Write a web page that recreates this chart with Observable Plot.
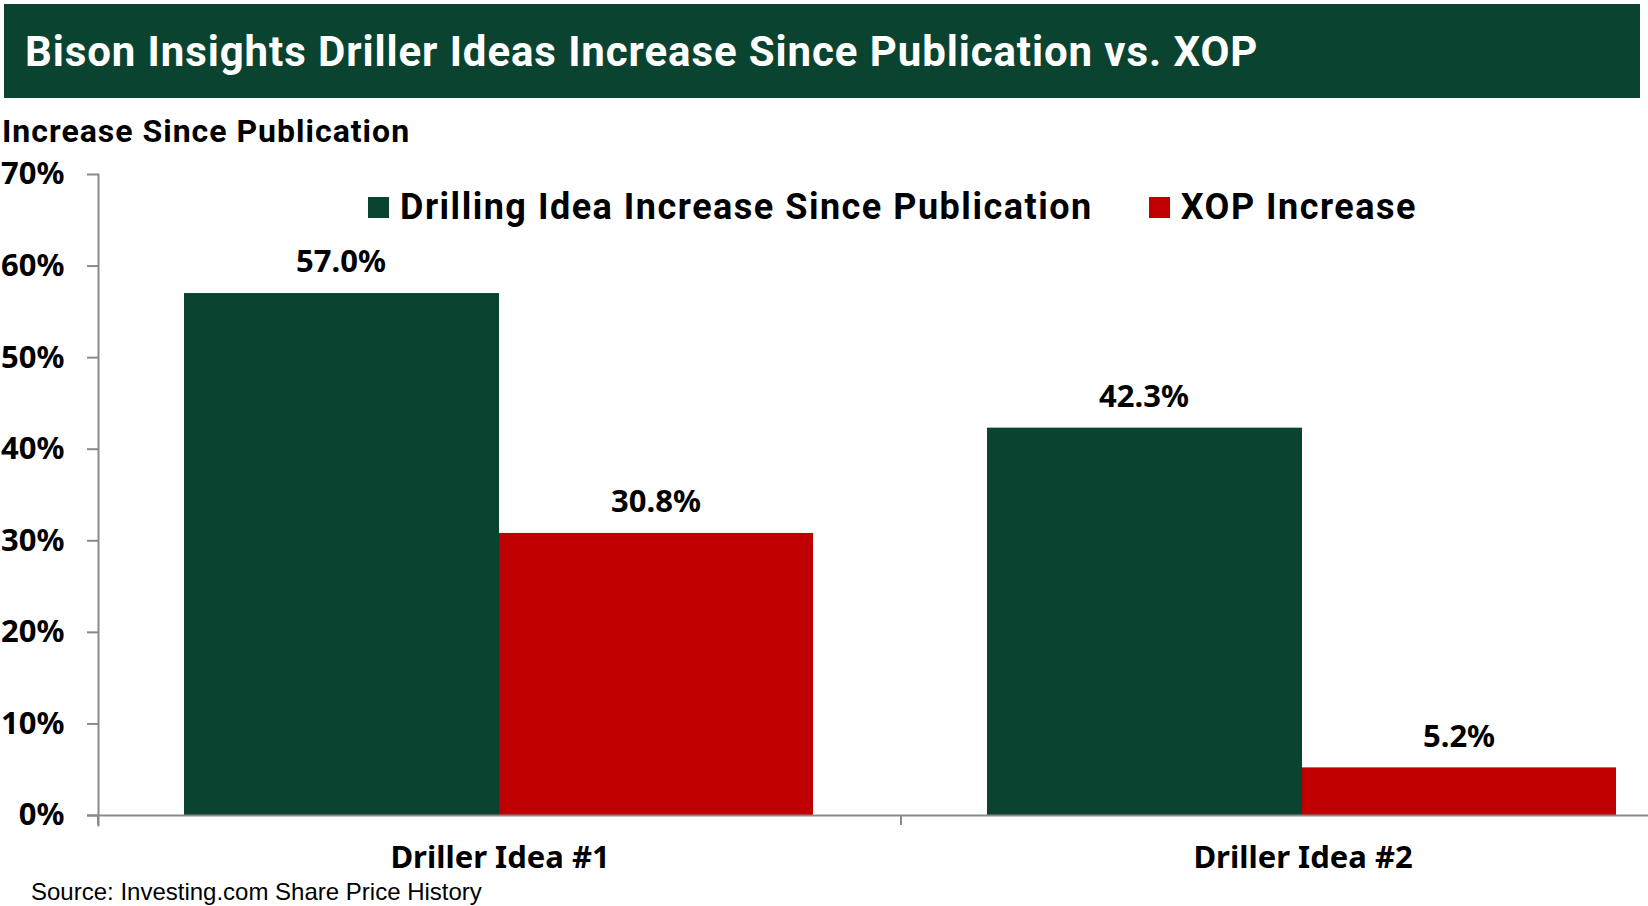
<!DOCTYPE html>
<html>
<head>
<meta charset="utf-8">
<script src="https://cdn.jsdelivr.net/npm/d3@7"></script>
<script src="https://cdn.jsdelivr.net/npm/@observablehq/plot@0.6"></script>
<style>
  html, body { margin: 0; padding: 0; background: #fff; }
  body { width: 1648px; height: 906px; position: relative; overflow: hidden; font-family: Roboto, "Noto Sans", sans-serif; }
  #banner { position: absolute; left: 4px; top: 4px; width: 1636px; height: 94px; background: #0B4331; }
  #title { position: absolute; left: 21px; top: 1px; height: 94px; line-height: 94px; color: #fff; font-weight: 700; font-size: 42px; letter-spacing: 0.9px; white-space: nowrap; }
  #ytitle { position: absolute; left: 2px; top: 112px; font-weight: 700; font-size: 32px; color: #000; white-space: nowrap; letter-spacing: 1px; }
  #legend { position: absolute; left: 368px; top: 186px; display: flex; align-items: center; font-weight: 700; font-size: 36px; letter-spacing: 1.5px; color: #000; white-space: nowrap; z-index: 2; }
  #legend .item { display: flex; align-items: center; }
  #legend .sw { width: 21px; height: 21px; margin-right: 11px; }
  #chart { position: absolute; left: 0; top: 100px; }
  #caption { position: absolute; left: 31px; top: 878px; font-family: "Liberation Sans", Arial, sans-serif; font-size: 24px; color: #000; white-space: nowrap; }
</style>
</head>
<body>
<div id="banner"><div id="title"></div></div>
<div id="ytitle"></div>
<div id="legend"></div>
<div id="chart"></div>
<div id="caption"></div>
<script>
const titleText = "Bison Insights Driller Ideas Increase Since Publication vs. XOP";
const yAxisTitle = "Increase Since Publication";
const captionText = "Source: Investing.com Share Price History";
const categories = ["Driller Idea #1", "Driller Idea #2"];
const seriesNames = ["Drilling Idea Increase Since Publication", "XOP Increase"];
const drillingValues = [57.0, 42.3];
const xopValues = [30.8, 5.2];
const yTicks = [0, 10, 20, 30, 40, 50, 60, 70];
const seriesColors = ["#0B4331", "#C00000"];

document.getElementById("title").textContent = titleText;
document.getElementById("ytitle").textContent = yAxisTitle;
document.getElementById("caption").textContent = captionText;

const legend = document.getElementById("legend");
seriesNames.forEach((s, i) => {
  const item = document.createElement("div");
  item.className = "item";
  if (i > 0) item.style.marginLeft = "56px";
  const sw = document.createElement("div");
  sw.className = "sw";
  sw.style.background = seriesColors[i];
  const t = document.createElement("span");
  t.textContent = s;
  item.appendChild(sw); item.appendChild(t);
  legend.appendChild(item);
});

const data = categories.flatMap((c, i) => [
  {category: c, series: seriesNames[0], value: drillingValues[i]},
  {category: c, series: seriesNames[1], value: xopValues[i]}
]);
const drill = data.filter(d => d.series === seriesNames[0]);
const xop = data.filter(d => d.series === seriesNames[1]);

const W = 1648, H = 780;
const gray = "#898989";
const fmt = d => d.toFixed(1) + "%";

const chart = Plot.plot({
  width: W,
  height: H,
  marginLeft: 98,
  marginRight: 0,
  marginTop: 74,
  marginBottom: 65,
  style: {background: "transparent", overflow: "hidden"},
  x: {domain: categories, range: [98, 1704], padding: 0, label: null},
  y: {domain: [0, 70], label: null},
  color: {domain: seriesNames, range: seriesColors},
  marks: [
    Plot.barY(drill, {x: "category", y: "value", fill: "series", insetLeft: 86, insetRight: 402}),
    Plot.barY(xop, {x: "category", y: "value", fill: "series", insetLeft: 401, insetRight: 88}),
    Plot.text(drill, {x: "category", y: "value", text: d => fmt(d.value), dx: -159, dy: -31, fontSize: 31, fontWeight: 700, fill: "#000"}),
    Plot.text(xop, {x: "category", y: "value", text: d => fmt(d.value), dx: 156, dy: -31, fontSize: 31, fontWeight: 700, fill: "#000"}),
    Plot.frame({anchor: "left", stroke: gray, strokeWidth: 2, insetBottom: -10}),
    Plot.ruleY([0], {stroke: gray, strokeWidth: 2, insetLeft: -11}),
    Plot.axisY({ticks: yTicks, tickFormat: d => d + "%", tickSize: 11, tickPadding: 23, stroke: gray, strokeWidth: 2, fontSize: 31, fontWeight: 700, fill: "#000", label: null}),
    Plot.axisX({tickSize: 0, tickPadding: 30, fontSize: 31, fontWeight: 700, fill: "#000", label: null})
  ]
});

// category boundary ticks below the baseline, from the x band scale
const xs = chart.scale("x");
const ys = chart.scale("y");
const y0 = ys.apply(0);
const svg = d3.select(chart);
categories.forEach(c => {
  const x = xs.apply(c);
  svg.append("line").attr("x1", x).attr("x2", x).attr("y1", y0).attr("y2", y0 + 10)
    .attr("stroke", gray).attr("stroke-width", 2);
});

document.getElementById("chart").appendChild(chart);
</script>
</body>
</html>
